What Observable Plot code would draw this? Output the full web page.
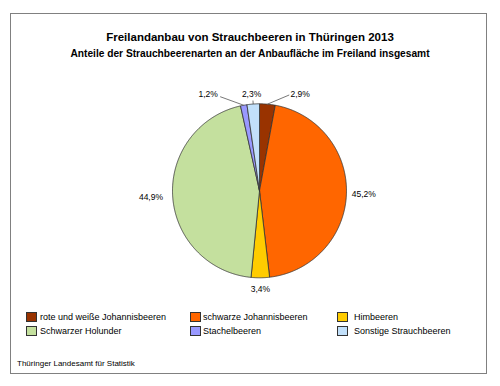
<!DOCTYPE html>
<html>
<head>
<meta charset="utf-8">
<script src="https://cdn.jsdelivr.net/npm/d3@7"></script>
<script src="https://cdn.jsdelivr.net/npm/@observablehq/plot@0.6"></script>
<style>
  body { margin: 0; background: #fff; }
  #wrap { position: relative; width: 500px; height: 386px; font-family: "Liberation Sans", Arial, sans-serif; color: #000; overflow: hidden; }
  #frame { position: absolute; left: 10px; top: 13px; width: 477px; height: 361px; border: 1px solid #808080; box-sizing: border-box; }
  .t { position: absolute; white-space: nowrap; }
  #title { left: 0; width: 500px; top: 30px; text-align: center; font-weight: bold; font-size: 11.5px; line-height: 14px; }
  #subtitle { left: 0; width: 500px; top: 48px; text-align: center; font-weight: bold; font-size: 10.2px; line-height: 12px; }
  #chart { position: absolute; left: 0; top: 0; }
  .sw { position: absolute; width: 11px; height: 10px; box-sizing: border-box; border: 1px solid #333; }
  .lt { position: absolute; font-size: 9px; line-height: 11px; white-space: nowrap; }
  #caption { left: 17px; top: 359px; font-size: 8px; line-height: 10px; }
</style>
</head>
<body>
<div id="wrap">
  <div id="frame"></div>
  <div id="chart"></div>
  <div class="t" id="title">Freilandanbau von Strauchbeeren in Thüringen 2013</div>
  <div class="t" id="subtitle">Anteile der Strauchbeerenarten an der Anbaufläche im Freiland insgesamt</div>
  <div id="legend"></div>
  <div class="t" id="caption">Thüringer Landesamt für Statistik</div>
</div>
<script>
// ---- data ----
const categories = [
  "rote und weiße Johannisbeeren",
  "schwarze Johannisbeeren",
  "Himbeeren",
  "Schwarzer Holunder",
  "Stachelbeeren",
  "Sonstige Strauchbeeren"
];
const shares = [2.9, 45.2, 3.4, 44.9, 1.2, 2.3];
const shareLabels = ["2,9%", "45,2%", "3,4%", "44,9%", "1,2%", "2,3%"];
const colors = ["#993300", "#FF6600", "#FFCC00", "#C4E09E", "#9999FF", "#C2E0FA"];
// legend order (rows of three)
const legendOrder = [0, 1, 2, 3, 4, 5];

// ---- layout (label placement in radius units / pixel nudges) ----
const R = 87;                 // pie radius in px
const CX = 259, CY = 190.3;   // pie centre in px
const labelLayout = [
  {k: 1.10, nx: 32, ny: -1, leader: {k: 1.10, nx: 21, ny: -0.5}},
  {k: 1.20, nx: 0, ny: 0},
  {k: 1.135, nx: 0, ny: 0},
  {k: 1.25, nx: 0, ny: 0},
  {k: 1.10, nx: -34, ny: -2, leader: {k: 1.10, nx: -22, ny: 0}},
  {k: 1.10, nx: -1, ny: -1, leader: {k: 1.04, nx: 0, ny: 0}}
];

const rows = categories.map((c, i) => ({cat: c, value: shares[i], label: shareLabels[i], i}));
const arcs = d3.pie().sort(null).value(d => d.value)(rows);

// slice polygons
const poly = [];
arcs.forEach(a => {
  const n = Math.max(2, Math.ceil((a.endAngle - a.startAngle) / (Math.PI / 360)) + 1);
  poly.push({cat: a.data.cat, x: 0, y: 0});
  for (let j = 0; j < n; j++) {
    const t = a.startAngle + (a.endAngle - a.startAngle) * j / (n - 1);
    poly.push({cat: a.data.cat, x: Math.sin(t), y: Math.cos(t)});
  }
  poly.push({cat: a.data.cat, x: 0, y: 0});
});

const labelPts = arcs.map((a, i) => {
  const m = (a.startAngle + a.endAngle) / 2;
  const L = labelLayout[i];
  return {label: a.data.label, x: Math.sin(m) * L.k + L.nx / R, y: Math.cos(m) * L.k - L.ny / R};
});
const leaders = arcs.map((a, i) => {
  const L = labelLayout[i].leader;
  if (!L) return null;
  const m = (a.startAngle + a.endAngle) / 2;
  return {x1: Math.sin(m), y1: Math.cos(m), x2: Math.sin(m) * L.k + L.nx / R, y2: Math.cos(m) * L.k - L.ny / R};
}).filter(Boolean);

const plot = Plot.plot({
  width: 500,
  height: 386,
  margin: 0,
  x: {domain: [-1, 1], range: [CX - R, CX + R], axis: null},
  y: {domain: [-1, 1], range: [CY + R, CY - R], axis: null},
  color: {domain: categories, range: colors},
  style: {background: "transparent", fontFamily: "'Liberation Sans', Arial, sans-serif"},
  marks: [
    Plot.line(poly, {x: "x", y: "y", z: "cat", fill: "cat", stroke: "#333", strokeWidth: 0.8, strokeLinejoin: "round", curve: "linear-closed"}),
    Plot.link(leaders, {x1: "x1", y1: "y1", x2: "x2", y2: "y2", stroke: "#555", strokeWidth: 0.8}),
    Plot.text(labelPts, {x: "x", y: "y", text: "label", fontSize: 8.5, fill: "#000"})
  ]
});
document.getElementById("chart").appendChild(plot);

// ---- legend ----
const legend = document.getElementById("legend");
const colX = [26, 190, 337];
const rowSwY = [311.5, 326];
const rowTxtY = [311.6, 326.3];
const txtOff = [14, 13, 17];
legendOrder.forEach((idx, k) => {
  const c = k % 3, r = Math.floor(k / 3);
  const sw = document.createElement("div");
  sw.className = "sw";
  sw.style.left = colX[c] + "px";
  sw.style.top = rowSwY[r] + "px";
  sw.style.background = colors[idx];
  legend.appendChild(sw);
  const tx = document.createElement("div");
  tx.className = "lt";
  tx.style.left = (colX[c] + txtOff[c]) + "px";
  tx.style.top = rowTxtY[r] + "px";
  tx.textContent = categories[idx];
  legend.appendChild(tx);
});
</script>
</body>
</html>
